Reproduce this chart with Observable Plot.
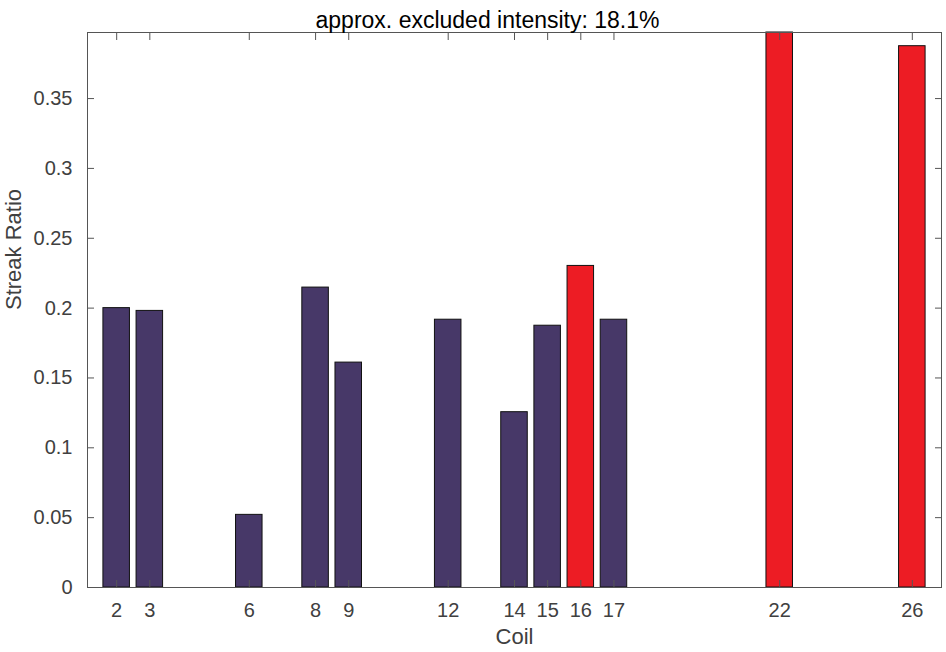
<!DOCTYPE html>
<html>
<head>
<meta charset="utf-8">
<script src="https://cdn.jsdelivr.net/npm/d3@7"></script>
<script src="https://cdn.jsdelivr.net/npm/@observablehq/plot@0.6"></script>
<style>
  html, body { margin: 0; padding: 0; background: #fff; }
  #chart { width: 946px; height: 652px; }
</style>
</head>
<body>
<div id="chart"></div>
<script>
const title = "approx. excluded intensity: 18.1%";
const xLabel = "Coil";
const yLabel = "Streak Ratio";
const coils = [2, 3, 6, 8, 9, 12, 14, 15, 16, 17, 22, 26];
const ratios = [0.200, 0.198, 0.052, 0.2147, 0.161, 0.1917, 0.1255, 0.1874, 0.2302, 0.1917, 0.3973, 0.3875];
const excluded = [false, false, false, false, false, false, false, false, true, false, true, true];
const yTicks = [0, 0.05, 0.1, 0.15, 0.2, 0.25, 0.3, 0.35];
const yMax = 0.3973;

const data = coils.map((c, i) => ({coil: c, ratio: ratios[i], excluded: excluded[i]}));
const tickColor = "#404040";
const font = "Liberation Sans, Arial, Helvetica, sans-serif";

const plot = Plot.plot({
  width: 946,
  height: 652,
  marginLeft: 87,
  marginRight: 5,
  marginTop: 32,
  marginBottom: 65,
  style: {fontFamily: font, fontSize: "20px", color: tickColor, background: "#fff"},
  x: {type: "linear", domain: [1.12, 26.88]},
  y: {domain: [0, yMax]},
  marks: [
    Plot.rectY(data, {
      x1: d => d.coil - 0.4,
      x2: d => d.coil + 0.4,
      y1: 0,
      y2: "ratio",
      fill: d => d.excluded ? "#ed1c24" : "#473868",
      stroke: "#111",
      strokeWidth: 1
    }),
    Plot.frame({stroke: "#555", strokeWidth: 1}),
    // inward tick marks
    Plot.axisX({ticks: coils, tickSize: -7, tickFormat: () => "", label: null, stroke: "#555"}),
    Plot.axisX({anchor: "top", ticks: coils, tickSize: -7, tickFormat: () => "", label: null, stroke: "#555"}),
    Plot.axisY({ticks: yTicks, tickSize: -7, tickFormat: () => "", label: null, stroke: "#555"}),
    Plot.axisY({anchor: "right", ticks: yTicks, tickSize: -7, tickFormat: () => "", label: null, stroke: "#555"}),
    // tick labels
    Plot.axisX({ticks: coils, tickSize: 0, tickPadding: 15, tickFormat: d => String(d), label: null, fill: tickColor, fontSize: 20}),
    Plot.axisY({ticks: yTicks, tickSize: 0, tickPadding: 15, tickFormat: d => String(d), label: null, fill: tickColor, fontSize: 20}),
    // labels and title
    Plot.text([xLabel], {frameAnchor: "bottom", dy: 56, text: d => d, fontSize: 22, fill: tickColor}),
    Plot.text([yLabel], {frameAnchor: "left", dx: -74, rotate: -90, text: d => d, fontSize: 22, fill: tickColor}),
    Plot.text([title], {frameAnchor: "top", dx: -27, dy: -21, text: d => d, fontSize: 23, fill: "#000"})
  ]
});
document.getElementById("chart").appendChild(plot);
</script>
</body>
</html>
